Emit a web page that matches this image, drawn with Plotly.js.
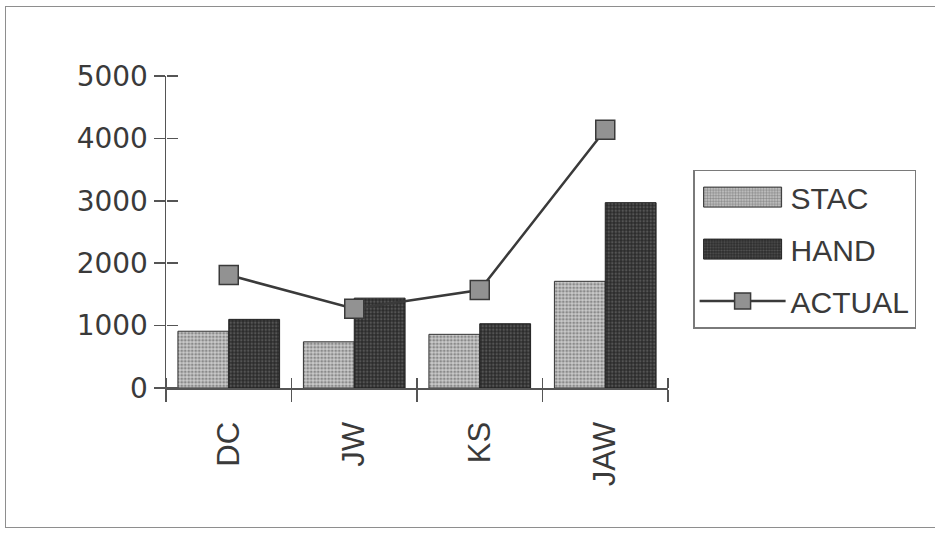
<!DOCTYPE html>
<html>
<head>
<meta charset="utf-8">
<script src="https://cdn.plot.ly/plotly-3.0.1.min.js"></script>
<style>
  html, body { margin: 0; padding: 0; background: #ffffff; }
  #wrap { position: relative; width: 935px; height: 537px; overflow: hidden; }
  #chart { width: 935px; height: 537px; }
  #frame {
    position: absolute; left: 5px; top: 6px; width: 960px; height: 520px;
    border: 1.5px solid #8e8e8e; pointer-events: none;
  }
</style>
</head>
<body>
<div id="wrap">
  <div id="chart"></div>
  <div id="frame"></div>
</div>
<script>
// Person initials along the category axis
const categories = ['DC', 'JW', 'KS', 'JAW'];
// Estimated values
const stacValues = [910, 740, 860, 1710];
const handValues = [1100, 1440, 1030, 2970];
// Actual values
const actualValues = [1810, 1270, 1570, 4140];
const yTickValues = [0, 1000, 2000, 3000, 4000, 5000];

const axisColor = '#555555';
const textColor = '#3a3a3a';

const stac = {
  type: 'bar', name: 'STAC', x: categories, y: stacValues,
  legendgroup: 'a',
  marker: {
    color: '#cacaca',
    line: { color: '#333333', width: 1 },
    pattern: { shape: '.', fgcolor: '#4a4a4a', size: 3.5, solidity: 0.5, fillmode: 'overlay' }
  },
  hoverinfo: 'x+y+name'
};

const hand = {
  type: 'bar', name: 'HAND', x: categories, y: handValues,
  legendgroup: 'b',
  marker: {
    color: '#2c2c2c',
    line: { color: '#222222', width: 1 },
    pattern: { shape: '.', fgcolor: '#7c7c7c', size: 3.5, solidity: 0.4, fillmode: 'overlay' }
  },
  hoverinfo: 'x+y+name'
};

// The line trace sits on a second pair of overlaid axes, which also carry
// the inward half of the crossing tick marks.
const actual = {
  type: 'scatter', mode: 'lines+markers', name: 'ACTUAL',
  x: categories, y: actualValues, xaxis: 'x2', yaxis: 'y2',
  legendgroup: 'c',
  line: { color: '#3a3a3a', width: 2.5 },
  marker: { symbol: 'square', size: 19, color: '#929292', line: { color: '#3a3a3a', width: 1.5 } },
  hoverinfo: 'x+y+name'
};

const layout = {
  width: 935, height: 537,
  margin: { l: 166, r: 267, t: 76, b: 149, pad: 0 },
  paper_bgcolor: '#ffffff', plot_bgcolor: 'rgba(0,0,0,0)',
  barmode: 'group', bargap: 0.19, bargroupgap: 0,
  showlegend: true,
  font: { family: 'Liberation Sans, Arial, sans-serif', color: textColor },
  xaxis: {
    type: 'category', range: [-0.5, 3.5], tickson: 'boundaries',
    ticks: 'outside', ticklen: 12, tickwidth: 1.5, tickcolor: axisColor,
    showline: true, linecolor: axisColor, linewidth: 1.5,
    showgrid: false, zeroline: false,
    tickangle: -90, ticklabelstandoff: 20,
    tickfont: { family: 'Liberation Sans, Arial, sans-serif', size: 31, color: textColor }
  },
  xaxis2: {
    type: 'category', overlaying: 'x', side: 'top', anchor: 'free', position: 0,
    range: [-0.5, 3.5], tickson: 'boundaries',
    ticks: 'outside', ticklen: 10, tickwidth: 1.5, tickcolor: axisColor,
    showline: false, showgrid: false, zeroline: false, showticklabels: false
  },
  yaxis: {
    range: [0, 5000], tickmode: 'array', tickvals: yTickValues,
    ticks: 'outside', ticklen: 11, tickwidth: 1.5, tickcolor: axisColor,
    showline: true, linecolor: axisColor, linewidth: 1.5,
    showgrid: false, zeroline: false,
    tickfont: { family: 'DejaVu Sans, sans-serif', size: 28, color: textColor }
  },
  yaxis2: {
    overlaying: 'y', side: 'right', anchor: 'free', position: 0,
    range: [0, 5000], tickmode: 'array', tickvals: yTickValues,
    ticks: 'outside', ticklen: 11, tickwidth: 1.5, tickcolor: axisColor,
    showline: false, showgrid: false, zeroline: false, showticklabels: false
  },
  legend: {
    x: 1.05, xanchor: 'left', y: 0.70, yanchor: 'top',
    bgcolor: '#ffffff', bordercolor: '#7a7a7a', borderwidth: 1.5,
    font: { family: 'Liberation Sans, Arial, sans-serif', size: 30, color: textColor },
    traceorder: 'grouped', tracegroupgap: 10, itemwidth: 86
  }
};

// Widen the bar swatches in the legend to long, flat rectangles.
function widenBarSwatches(gd) {
  const groups = gd.querySelectorAll('.legend .traces');
  groups.forEach(function (g) {
    g.querySelectorAll('.legendpoints path').forEach(function (p) {
      const d = p.getAttribute('d') || '';
      if (d.indexOf('M6,6') === 0) {
        p.setAttribute('d', 'M39,10H-39V-10H39Z');
      }
    });
  });
}

Plotly.newPlot('chart', [stac, hand, actual], layout, { displayModeBar: false, staticPlot: true })
  .then(widenBarSwatches);
</script>
</body>
</html>
